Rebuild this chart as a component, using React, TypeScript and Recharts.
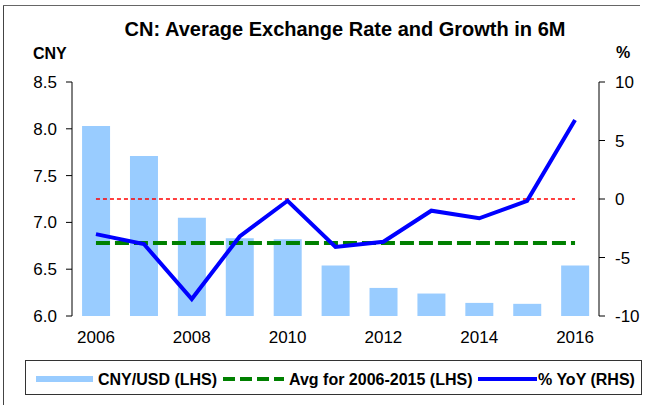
import React from 'react';
import { ComposedChart, Bar, Line, XAxis, YAxis, ReferenceLine } from 'recharts';

const years = ['2006', '2007', '2008', '2009', '2010', '2011', '2012', '2013', '2014', '2015', '2016'];
const cnyUsd = [8.03, 7.71, 7.05, 6.83, 6.82, 6.54, 6.3, 6.24, 6.14, 6.13, 6.54];
const yoyPct = [-3.0, -3.85, -8.55, -3.2, -0.15, -4.1, -3.65, -1.0, -1.65, -0.15, 6.75];
const avg2006to2015 = 6.78;
const leftTicks = [6.0, 6.5, 7.0, 7.5, 8.0, 8.5];
const rightTicks = [-10, -5, 0, 5, 10];
const boundaryTicks = [0, 1, 2, 3, 4, 5, 6, 7, 8, 9, 10, 11];

const data = years.map((year, i) => ({ year, rate: cnyUsd[i], yoy: yoyPct[i] }));

const FONT = '"Liberation Sans", Arial, sans-serif';
const tickStyle = { fontSize: 17, fill: '#000', fontFamily: FONT };

export default function App() {
  return (
    <div style={{ position: 'absolute', left: 0, top: 0, width: 648, height: 405, background: '#fff' }}>
      <ComposedChart width={648} height={405} data={data} margin={{ top: 82, right: 0, bottom: 59, left: 0 }} barCategoryGap="21%">
        {/* tick marks sit on the category boundaries, so a hidden numeric axis draws them */}
        <XAxis
          xAxisId="grid"
          type="number"
          domain={[0, 11]}
          ticks={boundaryTicks}
          height={0}
          tickSize={6}
          tickFormatter={() => ''}
          axisLine={{ stroke: '#000' }}
          tickLine={{ stroke: '#000' }}
        />
        <XAxis
          xAxisId="cat"
          dataKey="year"
          height={30}
          interval={1}
          axisLine={false}
          tickLine={false}
          tickSize={0}
          tickMargin={15}
          tick={tickStyle}
        />
        <YAxis
          yAxisId="l"
          width={72}
          domain={[6, 8.5]}
          ticks={leftTicks}
          tickFormatter={(v: number) => v.toFixed(1)}
          tickSize={6}
          tickMargin={9}
          tick={tickStyle}
          axisLine={{ stroke: '#000' }}
          tickLine={{ stroke: '#000' }}
        />
        <YAxis
          yAxisId="r"
          orientation="right"
          width={49}
          domain={[-10, 10]}
          ticks={rightTicks}
          tickSize={6}
          tickMargin={10}
          tick={{ ...tickStyle, textAnchor: 'start' }}
          axisLine={{ stroke: '#000' }}
          tickLine={{ stroke: '#000' }}
        />
        <Bar xAxisId="cat" yAxisId="l" dataKey="rate" fill="#99ccff" isAnimationActive={false} />
        <ReferenceLine
          xAxisId="cat"
          yAxisId="r"
          segment={[{ x: years[0], y: 0 }, { x: years[years.length - 1], y: 0 }]}
          stroke="#ff0000"
          strokeWidth={1.5}
          strokeDasharray="4 3"
        />
        <ReferenceLine
          xAxisId="cat"
          yAxisId="l"
          segment={[{ x: years[0], y: avg2006to2015 }, { x: years[years.length - 1], y: avg2006to2015 }]}
          stroke="#008000"
          strokeWidth={4}
          strokeDasharray="14 5"
        />
        <Line
          xAxisId="cat"
          yAxisId="r"
          dataKey="yoy"
          stroke="#0000ff"
          strokeWidth={4}
          dot={false}
          type="linear"
          isAnimationActive={false}
        />
      </ComposedChart>
      <svg width={648} height={405} style={{ position: 'absolute', left: 0, top: 0, pointerEvents: 'none' }}>
        <line x1={3.5} y1={5} x2={3.5} y2={405} stroke="#444" />
        <line x1={3} y1={5.5} x2={640} y2={5.5} stroke="#666" />
        <g fontFamily={FONT} fontWeight="bold" fill="#000">
          <text x={345} y={35.5} fontSize={20} textAnchor="middle">CN: Average Exchange Rate and Growth in 6M</text>
          <text x={33} y={59} fontSize={16}>CNY</text>
          <text x={616} y={58} fontSize={16}>%</text>
        </g>
        <rect x={25.5} y={360.5} width={616} height={34} fill="#fff" stroke="#333" />
        <rect x={36} y={376} width={57} height={6} fill="#99ccff" />
        <line x1={223} y1={379} x2={284} y2={379} stroke="#008000" strokeWidth={4} strokeDasharray="12 5" />
        <line x1={478} y1={379} x2={537} y2={379} stroke="#0000ff" strokeWidth={4} />
        <g fontFamily={FONT} fontWeight="bold" fontSize={16} fill="#000">
          <text x={98} y={384.5}>CNY/USD (LHS)</text>
          <text x={289} y={384.5}>Avg for 2006-2015 (LHS)</text>
          <text x={538} y={384.5}>% YoY (RHS)</text>
        </g>
      </svg>
    </div>
  );
}
